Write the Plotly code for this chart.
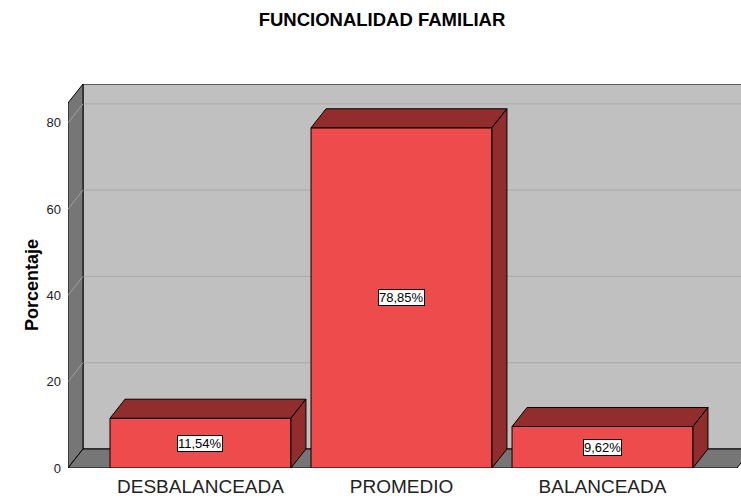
import plotly.graph_objects as go

categorias = ['DESBALANCEADA', 'PROMEDIO', 'BALANCEADA']
porcentajes = [11.54, 78.85, 9.62]
ticks_y = [0, 20, 40, 60, 80]

# geometria del grafico (pixeles)
W, H = 741, 500
ml, mr, mt, mb = 68, 0, 84, 32
x_rango = [-0.659, 2.689]
y_rango = [0, 89.0]
px_x = (W - ml - mr) / (x_rango[1] - x_rango[0])
px_y = (H - mt - mb) / (y_rango[1] - y_rango[0])
dx = 15 / px_x          # profundidad en unidades de x
dy = 19 / px_y          # profundidad en unidades de y
xL = x_rango[0]
xR = x_rango[1] - 4 / px_x
techo = y_rango[1] - dy
ancho = 0.9

rojo = '#ee4b4d'
rojo_osc = '#922d2e'
gris_fondo = '#c0c0c0'
gris_osc = '#767676'
fuente = 'Arial, Liberation Sans'

def poli(puntos):
    return 'M ' + ' L '.join(f'{x},{y}' for x, y in puntos) + ' Z'

shapes = []
# pared del fondo
shapes.append(dict(type='path', layer='below', xref='x', yref='y',
                   path=poli([(xL + dx, dy), (xR + dx, dy), (xR + dx, techo + dy), (xL + dx, techo + dy)]),
                   fillcolor=gris_fondo, line=dict(color='black', width=1)))
# lineas de cuadricula
for v in ticks_y[1:]:
    shapes.append(dict(type='line', layer='below', xref='x', yref='y',
                       x0=xL + dx, x1=xR + dx, y0=v + dy, y1=v + dy,
                       line=dict(color='#a9a9a9', width=1)))
# pared izquierda
shapes.append(dict(type='path', layer='below', xref='x', yref='y',
                   path=poli([(xL, 0), (xL + dx, dy), (xL + dx, techo + dy), (xL, techo)]),
                   fillcolor=gris_osc, line=dict(color='black', width=1)))
for v in ticks_y[1:]:
    shapes.append(dict(type='line', layer='below', xref='x', yref='y',
                       x0=xL, x1=xL + dx, y0=v, y1=v + dy,
                       line=dict(color='#a0a0a0', width=1)))
# piso
shapes.append(dict(type='path', layer='below', xref='x', yref='y',
                   path=poli([(xL, 0), (xR, 0), (xR + dx, dy), (xL + dx, dy)]),
                   fillcolor=gris_osc, line=dict(color='black', width=1)))

# caras superior y lateral de las barras
for i, v in enumerate(porcentajes):
    x0, x1 = i - ancho / 2, i + ancho / 2
    shapes.append(dict(type='path', layer='above', xref='x', yref='y',
                       path=poli([(x0, v), (x1, v), (x1 + dx, v + dy), (x0 + dx, v + dy)]),
                       fillcolor=rojo_osc, line=dict(color='black', width=1)))
    shapes.append(dict(type='path', layer='above', xref='x', yref='y',
                       path=poli([(x1, 0), (x1 + dx, dy), (x1 + dx, v + dy), (x1, v)]),
                       fillcolor=rojo_osc, line=dict(color='black', width=1)))

fig = go.Figure()
fig.add_trace(go.Bar(x=list(range(len(categorias))), y=porcentajes, width=ancho,
                     marker=dict(color=rojo, line=dict(color='black', width=1)),
                     hoverinfo='skip'))

anotaciones = []
for i, v in enumerate(porcentajes):
    anotaciones.append(dict(x=i, y=v / 2, xref='x', yref='y',
                            text=f'{v:.2f}%'.replace('.', ','), showarrow=False,
                            bgcolor='white', bordercolor='black', borderwidth=1, borderpad=0,
                            font=dict(family=fuente, size=13, color='black')))
# titulo del eje y
anotaciones.append(dict(x=(20 - ml) / (W - ml - mr), y=(H - mb - 285) / (H - mt - mb),
                        xref='paper', yref='paper', text='<b>Porcentaje</b>',
                        showarrow=False, textangle=-90,
                        font=dict(family=fuente, size=18, color='black')))

fig.update_layout(
    width=W, height=H,
    margin=dict(l=ml, r=mr, t=mt, b=mb, autoexpand=False),
    plot_bgcolor='white', paper_bgcolor='white',
    showlegend=False,
    shapes=shapes,
    annotations=anotaciones,
    title=dict(text='<b>FUNCIONALIDAD FAMILIAR</b>', xref='container', x=382 / W, xanchor='center',
               yref='container', y=1 - 20 / H, yanchor='middle',
               font=dict(family=fuente, size=18.5, color='black')),
    xaxis=dict(range=x_rango, tickvals=list(range(len(categorias))), ticktext=categorias,
               showgrid=False, zeroline=False, showline=False, ticks='', automargin=False,
               ticklabelstandoff=5,
               tickfont=dict(family=fuente, size=19, color='#222222')),
    yaxis=dict(range=y_rango, tickvals=ticks_y, showgrid=False, zeroline=False, showline=False,
               ticks='', ticklabelstandoff=6, automargin=False,
               tickfont=dict(family=fuente, size=13, color='#222222')),
)

fig.write_html('out.html', config={'displayModeBar': False},
               post_script="document.body.style.margin='0';")
